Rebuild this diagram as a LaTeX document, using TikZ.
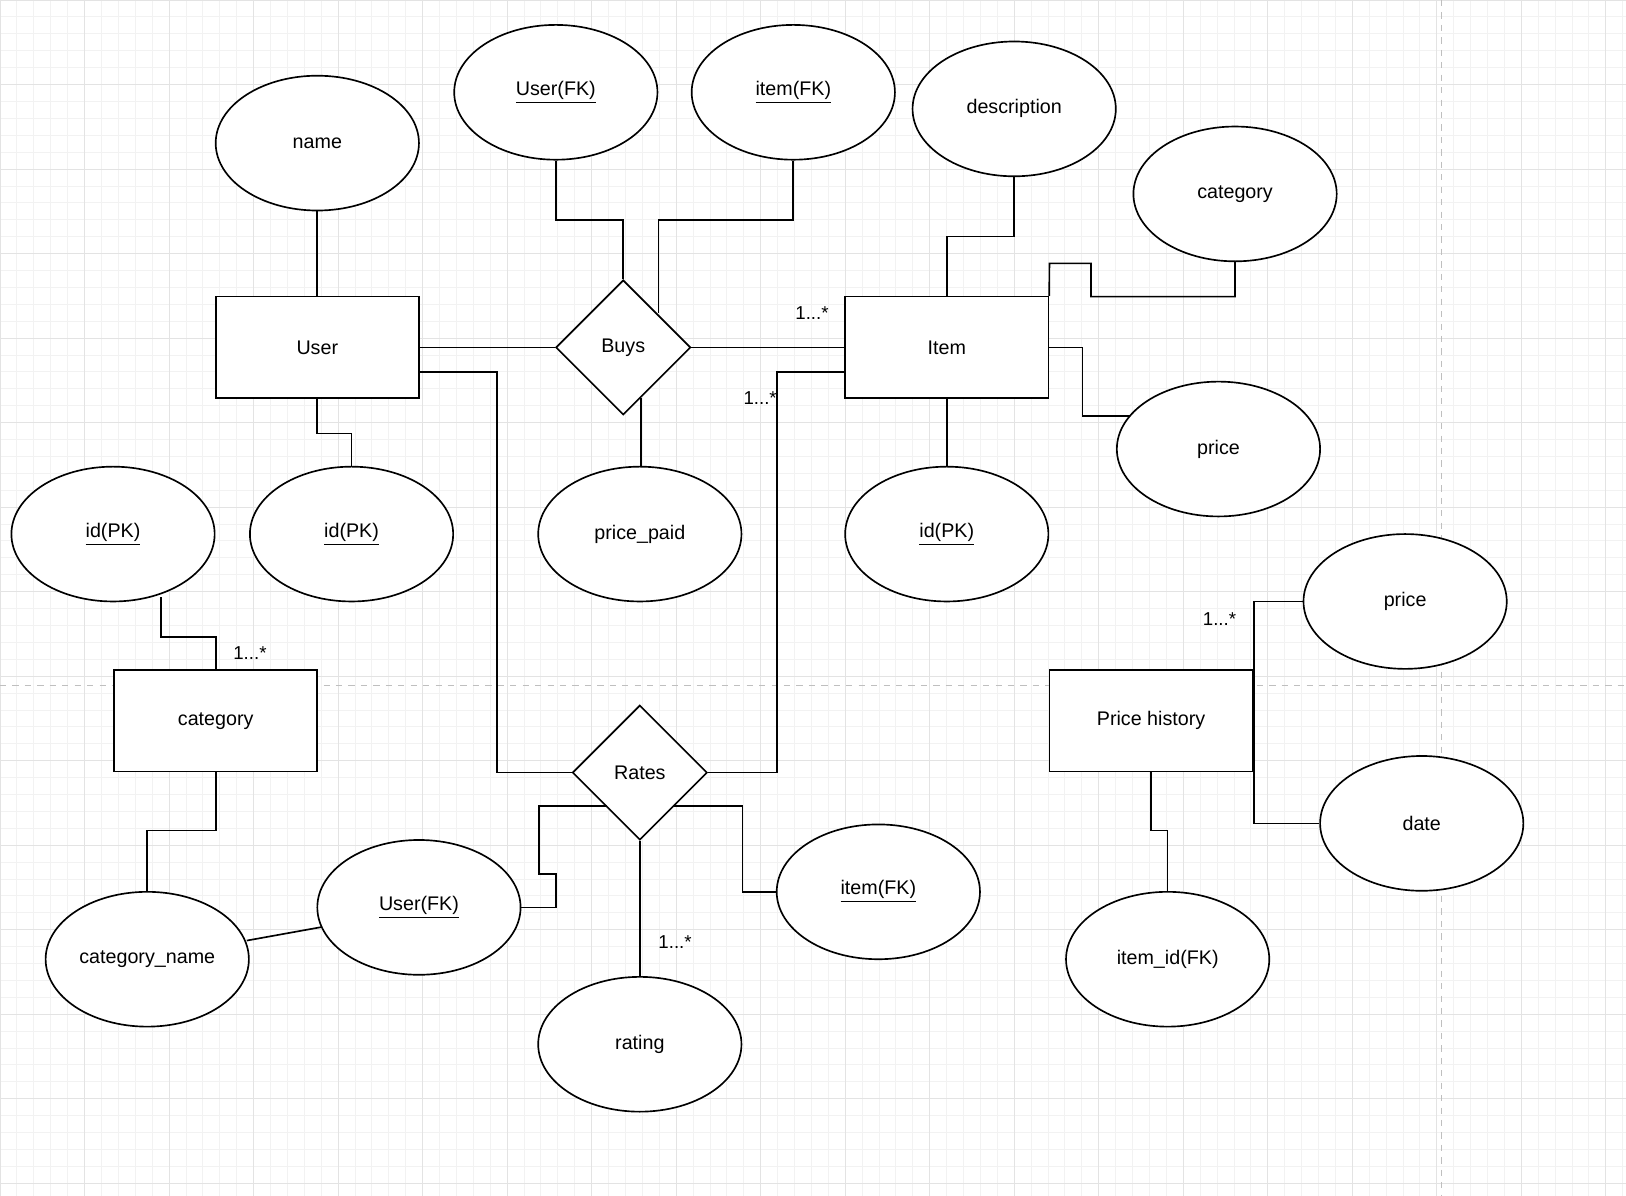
\documentclass[tikz,border=0pt]{standalone}
\usepackage{fontspec}
\setmainfont{Liberation Sans}
\usetikzlibrary{shapes.geometric}
\begin{document}
\begin{tikzpicture}[x=0.5pt,y=-0.5pt,
 every node/.style={font=\fontsize{9.5}{11}\selectfont},
 ent/.style={draw,thick,minimum width=98pt,minimum height=49pt,inner sep=0},
 att/.style={draw,thick,ellipse,minimum width=98pt,minimum height=65pt,inner sep=0},
 rel/.style={draw,thick,diamond,minimum width=65pt,minimum height=65pt,inner sep=0},
 ln/.style={thick},
 card/.style={font=\fontsize{9}{10}\selectfont}]
\useasboundingbox (0,0) rectangle (1568,1153);
\fill[white] (0,0) rectangle (1568,1153);
\foreach \i in {0,...,97} {\draw[gray!10] (\i*16.3,0) -- (\i*16.3,1153);}
\foreach \i in {0,...,71} {\draw[gray!10] (0,\i*16.3) -- (1568,\i*16.3);}
\foreach \i in {0,...,19} {\draw[gray!22] (\i*81.5,0) -- (\i*81.5,1153);}
\foreach \i in {0,...,14} {\draw[gray!22] (0,\i*81.5) -- (1568,\i*81.5);}
\draw[gray!50,dashed] (0,661) -- (1568,661);
\draw[gray!50,dashed] (1390,0) -- (1390,1153);

\node[ent,fill=white] (user) at (306,335) {User};
\node[ent,fill=white] (item) at (913,335) {Item};
\node[ent,fill=white] (cat) at (208,695) {category};
\node[ent,fill=white] (ph) at (1110,695) {Price history};
\node[rel,fill=white] (buys) at (601,335) {Buys};
\node[rel,fill=white] (rates) at (617,745) {Rates};

\node[att,fill=white] (name) at (306,138) {name};
\node[att,fill=white] (bufk) at (536,89) {\underline{User(FK)}};
\node[att,fill=white] (bifk) at (765,89) {\underline{item(FK)}};
\node[att,fill=white] (desc) at (978,105) {description};
\node[att,fill=white] (icat) at (1191,187) {category};
\node[att,fill=white] (iprice) at (1175,433) {price};
\node[att,fill=white] (uid) at (339,515) {\underline{id(PK)}};
\node[att,fill=white] (pp) at (617,515) {price\_paid};
\node[att,fill=white] (iid) at (913,515) {\underline{id(PK)}};
\node[att,fill=white] (cid) at (109,515) {\underline{id(PK)}};
\node[att,fill=white] (phprice) at (1355,580) {price};
\node[att,fill=white] (date) at (1371,794) {date};
\node[att,fill=white] (phid) at (1126,925) {item\_id(FK)};
\node[att,fill=white] (rufk) at (404,875) {\underline{User(FK)}};
\node[att,fill=white] (rifk) at (847,860) {\underline{item(FK)}};
\node[att,fill=white] (cname) at (142,925) {category\_name};
\node[att,fill=white] (rating) at (617,1007) {rating};

\draw[ln] (name) -- (user);
\draw[ln] (bufk.south) -- (536,212) -| (buys.north);
\draw[ln] (bifk.south) -- (765,212) -- (635,212) -- (635,302);
\draw[ln] (desc.south) -- (978,228) -| (item.north);
\draw[ln] (item.north east) -- (1012,254) -- (1052,254) -- (1052,286) -| (icat.south);
\draw[ln] (item.east) -- (1044,335) -- (1044,401) -- (1090,401);
\draw[ln] (user.east) -- (buys.west);
\draw[ln] (buys.east) -- (item.west);
\node[card] (c1) at (783,302) {1...*};
\draw[ln] (user.south) -- (306,418) -| (uid.north);
\draw[ln] (618,384) -- (618,450);
\draw[ln] (item.south) -- (iid.north);
\draw[ln] (405,359) -| (479,745) -- (rates.west);
\draw[ln] (815,359) -| (749,745) -- (rates.east);
\node[card] (c2) at (733,384) {1...*};
\draw[ln] (155,576) -- (155,614) -| (cat.north);
\node[card] (c3) at (241,630) {1...*};
\draw[ln] (cat.south) -- (208,801) -| (cname.north);
\draw[ln] (238,907) -- (310,894);
\draw[ln] (rufk.east) -- (536,875) -- (536,843) -- (520,843) -- (520,777) -- (585,777);
\draw[ln] (650,777) -- (716,777) |- (rifk.west);
\draw[ln] (rates.south) -- (rating.north);
\node[card] (c4) at (651,908) {1...*};
\draw[ln] (phprice.west) -- (1209,580) -- (1209,794) -- (date.west);
\node[card] (c5) at (1176,597) {1...*};
\draw[ln] (ph.south) -- (1110,801) -| (phid.north);
\end{tikzpicture}
\end{document}
